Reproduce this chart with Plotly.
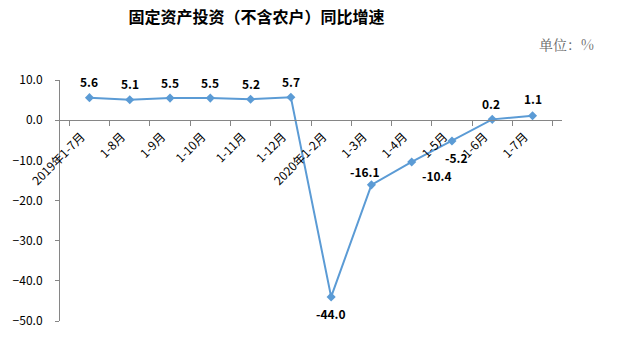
import plotly.graph_objects as go

categories = ["2019年1-7月", "1-8月", "1-9月", "1-10月", "1-11月", "1-12月",
              "2020年1-2月", "1-3月", "1-4月", "1-5月", "1-6月", "1-7月"]
values = [5.6, 5.1, 5.5, 5.5, 5.2, 5.7, -44.0, -16.1, -10.4, -5.2, 0.2, 1.1]

# data label offsets in pixels (style only)
label_dx = [0, 0, 0, 0, 0, 0, 0, -6, 25, 5, -1, 0]
label_dy = [16, 16, 16, 16, 16, 16, -17, 13, -14, -16, 16, 17]

fig = go.Figure()
fig.add_trace(go.Scatter(
    x=categories, y=values, mode="lines+markers",
    line=dict(color="#5B9BD5", width=2),
    marker=dict(symbol="diamond", size=7, color="#5B9BD5"),
    cliponaxis=False,
    showlegend=False,
))

annotations = []
for c, v, dx, dy in zip(categories, values, label_dx, label_dy):
    annotations.append(dict(
        x=c, y=v, xref="x", yref="y", text=f"<b>{v:.1f}</b>", showarrow=False,
        xshift=dx, yshift=dy, xanchor="center", yanchor="middle",
        font=dict(family="Noto Sans CJK SC", size=12, color="#000000")))
annotations.append(dict(text="单位：%", xref="paper", yref="paper", x=1.068, y=1.149,
                        xanchor="right", yanchor="middle", showarrow=False,
                        font=dict(family="Noto Serif CJK SC, Noto Sans CJK SC", size=14,
                                  color="#666666")))

ymin, ymax = -50, 10
fig.update_layout(
    width=618, height=347,
    margin=dict(l=60, r=56, t=80, b=26),
    paper_bgcolor="white", plot_bgcolor="white",
    font=dict(family="Noto Sans CJK SC", size=12, color="#000000"),
    title=dict(text="<b>固定资产投资（不含农户）同比增速</b>", x=0.415, xanchor="center",
               y=0.95, yanchor="middle",
               font=dict(family="Noto Sans CJK SC", size=16, color="#000000")),
    xaxis=dict(type="category", anchor="free", position=(0 - ymin) / (ymax - ymin),
               showline=True, linecolor="#868686", linewidth=1,
               ticks="outside", ticklen=5, tickcolor="#868686", tickson="boundaries",
               tickangle=-45, showgrid=False, zeroline=False,
               ticklabelshift=-8, ticklabelstandoff=4,
               tickfont=dict(size=12)),
    yaxis=dict(range=[ymin, ymax], dtick=10, tickformat=".1f",
               showline=True, linecolor="#868686", linewidth=1,
               ticks="outside", ticklen=4, tickcolor="#868686",
               ticklabelstandoff=10,
               showgrid=False, zeroline=False, tickfont=dict(size=12)),
    annotations=annotations,
)
fig.write_html("out.html")
